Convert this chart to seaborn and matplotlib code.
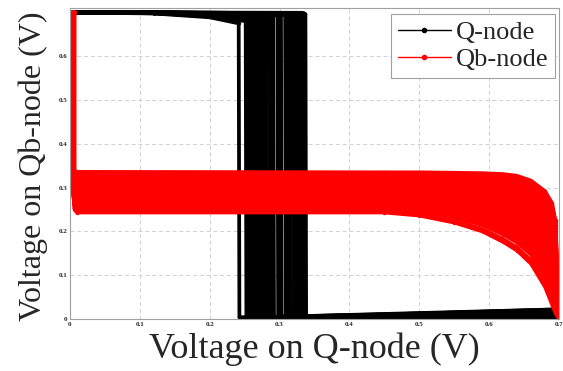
import numpy as np
import pandas as pd
import seaborn as sns
import matplotlib
matplotlib.use("Agg")
import matplotlib.pyplot as plt
from matplotlib.lines import Line2D

# ---------------- data ----------------
VDD = 0.70
# Q-node (black) curves: x where each curve flips, level just before flip, level at x=0.7 after flip
BLACK_TRIP = [0.242, 0.252, 0.2545, 0.257, 0.2595, 0.262, 0.2645, 0.267, 0.2695, 0.272,
              0.2745, 0.277, 0.2795, 0.282, 0.2865, 0.289, 0.2915, 0.2975, 0.300, 0.3025,
              0.3085, 0.311, 0.3135, 0.316, 0.3205, 0.323, 0.3255, 0.328, 0.3305, 0.333,
              0.3355, 0.3375]
BLACK_HIGH_END = [0.675, 0.680, 0.684, 0.682, 0.686, 0.688, 0.684, 0.690, 0.687, 0.691,
                  0.689, 0.692, 0.690, 0.693, 0.691, 0.694, 0.692, 0.695, 0.693, 0.696,
                  0.694, 0.697, 0.695, 0.697, 0.696, 0.698, 0.697, 0.698, 0.697, 0.699,
                  0.698, 0.696]
BLACK_LOW_END = [0.004, 0.006, 0.008, 0.010, 0.012, 0.014, 0.016, 0.018, 0.020, 0.022,
                 0.005, 0.007, 0.009, 0.011, 0.013, 0.015, 0.017, 0.019, 0.021, 0.003,
                 0.006, 0.008, 0.010, 0.012, 0.014, 0.016, 0.018, 0.020, 0.022, 0.004,
                 0.009, 0.013]

# Qb-node (red) curves: flat level of each curve
RED_LEVEL = [0.243, 0.247, 0.253, 0.256, 0.259, 0.262, 0.265, 0.268, 0.271, 0.274,
             0.277, 0.280, 0.283, 0.286, 0.289, 0.292, 0.295, 0.298, 0.301, 0.304,
             0.307, 0.310, 0.313, 0.316, 0.319, 0.322, 0.325, 0.328, 0.331, 0.334, 0.336]
# tail of lowest and highest red curve
RED_TAIL_X = [0.01, 0.45, 0.50, 0.55, 0.59, 0.62, 0.64, 0.66, 0.68, 0.69, 0.695, 0.70]
RED_TAIL_LOW = [0.243, 0.243, 0.236, 0.220, 0.200, 0.176, 0.156, 0.126, 0.073, 0.033, 0.013, 0.0]
RED_TAIL_HIGH = [0.336, 0.335, 0.335, 0.334, 0.333, 0.331, 0.327, 0.316, 0.292, 0.265, 0.225, 0.0]

X_TICKS = [0, 0.1, 0.2, 0.3, 0.4, 0.5, 0.6, 0.7]
Y_TICKS = [0, 0.1, 0.2, 0.3, 0.4, 0.5, 0.6]

# ---------------- build tables ----------------
rows = []
for i, (t, hi, lo) in enumerate(zip(BLACK_TRIP, BLACK_HIGH_END, BLACK_LOW_END)):
    D = VDD - hi
    xs = [0.0, 0.12, 0.20, t - 0.0005, t + 0.0005, 0.70]
    ys = [VDD, VDD - 0.1 * D, VDD - 0.45 * D, hi, 0.004, lo]
    for j, (x, y) in enumerate(zip(xs, ys)):
        rows.append(dict(run=i, order=j, x=x, y=y))
dfb = pd.DataFrame(rows)

rows = []
smin, smax = min(RED_LEVEL), max(RED_LEVEL)
for k, s in enumerate(RED_LEVEL):
    w = (s - smin) / (smax - smin)
    x0 = 0.0015 + 0.005 * (1 - w)
    xs = [x0, x0] + RED_TAIL_X
    ys = [VDD, s + 0.006] + [s + (lo - RED_TAIL_LOW[0]) * (1 - w) + (hi - RED_TAIL_HIGH[0]) * w
                             for lo, hi in zip(RED_TAIL_LOW, RED_TAIL_HIGH)]
    ys[-1] = 0.0
    for j, (x, y) in enumerate(zip(xs, ys)):
        rows.append(dict(run=k, order=j, x=x, y=y))
dfr = pd.DataFrame(rows)

# ---------------- plot ----------------
sns.set_theme(style="white")
plt.rcParams['font.family'] = ['Liberation Serif', 'DejaVu Serif']

fig = plt.figure(figsize=(5.63, 3.71), dpi=100)
ax = fig.add_axes([70 / 563, 1 - 319 / 371, (559 - 70) / 563, (319 - 8) / 371])

sns.lineplot(data=dfb, x='x', y='y', units='run', estimator=None, sort=False,
             color='black', lw=2.7, marker='.', markersize=5, markeredgewidth=0,
             ax=ax, legend=False)
sns.lineplot(data=dfr, x='x', y='y', units='run', estimator=None, sort=False,
             color='#ff0000', lw=2.6, marker='.', markersize=5, markeredgewidth=0,
             ax=ax, legend=False)

ax.set_xlim(0, 0.7)
ax.set_ylim(0, 0.71)
ax.set_xticks(X_TICKS)
ax.set_yticks(Y_TICKS)
ax.set_xticklabels([f"{v:g}" for v in X_TICKS], fontsize=5, fontweight='bold')
ax.set_yticklabels([f"{v:g}" for v in Y_TICKS], fontsize=5, fontweight='bold')
ax.tick_params(length=0, pad=2)
ax.grid(True, ls=(0, (4, 3)), color='#d0d0d0', lw=0.7)
for sp in ax.spines.values():
    sp.set_color('#a0a0a0')
    sp.set_linewidth(0.8)

ax.set_xlabel("Voltage on Q-node (V)", fontsize=26)
ax.set_ylabel("Voltage on Qb-node (V)", fontsize=23)
ax.xaxis.set_label_coords(0.50, -0.045)
ax.yaxis.set_label_coords(-0.045, 0.49)

handles = [Line2D([], [], color='black', marker='.', lw=1, markersize=6),
           Line2D([], [], color='#ff0000', marker='.', lw=1, markersize=6)]
leg = ax.legend(handles, ['Q-node', 'Qb-node'], loc='upper right',
                bbox_to_anchor=(555 / 563, 1 - 14 / 371), bbox_transform=fig.transFigure,
                fontsize=19, frameon=True, fancybox=False, edgecolor='#a0a0a0',
                framealpha=1, borderpad=0.25, handlelength=2.0, handletextpad=0.2,
                labelspacing=0.15, borderaxespad=0)
leg.get_frame().set_linewidth(0.8)

fig.savefig("out.png", dpi=100)
